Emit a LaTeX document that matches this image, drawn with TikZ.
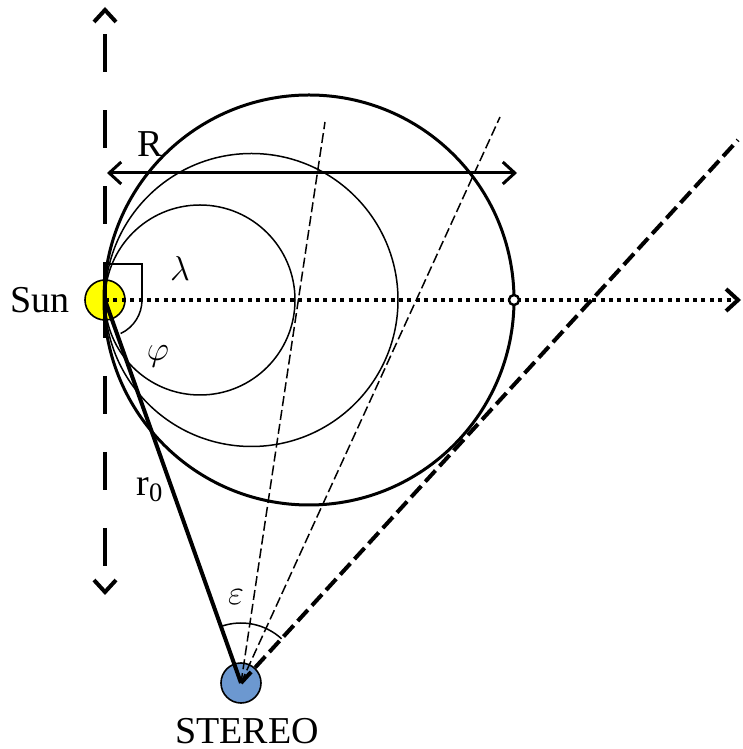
\documentclass[tikz,border=0pt]{standalone}
\usepackage{fontspec}
\setmainfont{Liberation Serif}
\usetikzlibrary{arrows.meta,positioning,calc}
\definecolor{sunyellow}{RGB}{255,255,0}
\definecolor{stereoblue}{RGB}{108,152,208}

\begin{document}
\begin{tikzpicture}[x=0.5pt, y=0.5pt,
  font=\fontsize{19}{22}\selectfont,
  body/.style={circle, draw, line width=0.8pt, inner sep=0pt, minimum size=20pt},
  txt/.style={inner sep=1pt},
  orbit/.style={line width=0.75pt},
  chev/.style={-{Straight Barb[length=6pt, width=11pt]}},
  axis/.style={chev, line width=2pt, dash pattern=on 19pt off 19pt},
  dotaxis/.style={chev, line width=2pt, dash pattern=on 2pt off 2.2pt},
  span/.style={{Straight Barb[length=6pt, width=11pt]}-{Straight Barb[length=6pt, width=11pt]}, line width=1.5pt},
  ray/.style={line width=0.75pt, dash pattern=on 5pt off 2pt},
  los/.style={line width=2pt, dash pattern=on 7.5pt off 3pt},
  anglemark/.style={line width=0.75pt}
]
\useasboundingbox (0,0) rectangle (743,749);

\node[body, fill=sunyellow] (sun) at (105,449) {};
\node[body, fill=stereoblue] (stereo) at (241,66) {};
\node[txt, left=6pt of sun] (sunname) {Sun};
\node[txt, below=6pt of stereo, xshift=3pt] (stereoname) {STEREO};

% spheres touching the Sun
\draw[line width=1.5pt] (309,449) circle[radius=102.5pt];
\draw[orbit] (251.5,449) circle[radius=73.25pt];
\draw[orbit] (200,449) circle[radius=47.5pt];

\coordinate (north) at (105,742);
\coordinate (south) at (105,154);
\coordinate (far) at (741,449);
\coordinate (rleft) at (107,576);
\coordinate (rright) at (517,576);
\coordinate (ray1) at (325,627);
\coordinate (ray2) at (500,632);
\coordinate (ray3) at (738,609);

\draw[axis] (sun.center) -- (north);
\draw[axis] (sun.center) -- (south);
\draw[dotaxis] (sun.center) -- (far);
\draw[span] (rleft) -- (rright);
\draw[ray] (stereo.center) -- (ray1);
\draw[ray] (stereo.center) -- (ray2);
\draw[los] (stereo.center) -- (ray3);
\draw[line width=2pt] (sun.center) -- (stereo.center);

% angles
\draw[anglemark] ($(sun.center)+(0,36)$) -| ($(sun.center)+(37,0)$);
\draw[anglemark] ($(sun.center)+(37,0)$) arc[start angle=0, end angle=-65, radius=18.5pt];
\draw[anglemark] ($(stereo.center)+(47.5:30pt)$) arc[start angle=47.5, end angle=109.6, radius=30pt];

\node[circle, draw, fill=white, line width=1.2pt, inner sep=0pt, minimum size=5pt] (edge) at (514,449) {};

\node[txt] (rlabel) at (150,605) {R};
\node[txt] (lam) at (180,480) {$\lambda$};
\node[txt] (phi) at (158,393) {$\varphi$};
\node[txt] (eps) at (236,152) {$\varepsilon$};
\node[txt] (rzero) at (150,259) {r\textsubscript{0}};
\end{tikzpicture}
\end{document}
